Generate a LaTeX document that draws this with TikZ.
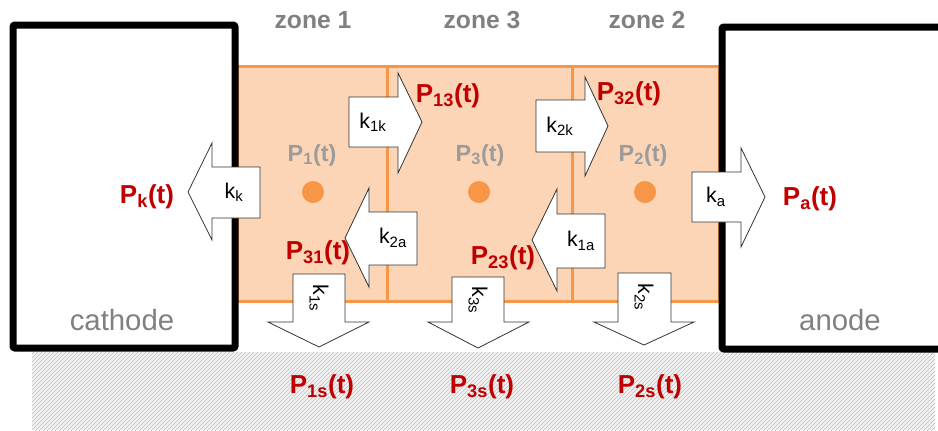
\documentclass[tikz,border=0pt]{standalone}
\usepackage{fontspec}
\setmainfont{Liberation Sans}
\usetikzlibrary{patterns}
\definecolor{zonefill}{HTML}{FBD5B5}
\definecolor{zoneline}{HTML}{F79646}
\definecolor{darkred}{HTML}{C00000}
\definecolor{titlegray}{HTML}{808080}
\definecolor{pgray}{HTML}{9C9C9C}
\begin{document}
\begin{tikzpicture}[x=0.75pt,y=-0.75pt,
  blockarrow/.style={fill=white,draw=black!80,line width=0.6pt,line join=miter},
  electrode/.style={draw=black,line width=5.25pt,rounded corners=1.5pt},
  zonetitle/.style={text=titlegray,font=\fontsize{18.5}{20}\selectfont\bfseries},
  elname/.style={text=titlegray,font=\fontsize{22}{24}\selectfont},
  pzone/.style={text=pgray,font=\fontsize{17.5}{19}\selectfont\bfseries},
  pred/.style={text=darkred,font=\fontsize{19.5}{21}\selectfont\bfseries},
  rate/.style={font=\fontsize{16}{18}\selectfont}]
\useasboundingbox (0,0) rectangle (938,430);
\clip (0,0) rectangle (938,430);
% substrate
\fill[black!5] (32,352) rectangle (935,430);
\fill[pattern=north east lines,pattern color=black!25] (32,352) rectangle (935,430);
% zones
\draw[fill=zonefill,draw=zoneline,line width=2.25pt] (237,66) rectangle (719,301);
\draw[zoneline,line width=2.25pt] (387,66) -- (387,301);
\draw[zoneline,line width=2.25pt] (572,66) -- (572,301);
\fill[zoneline] (313,192) circle (11);
\fill[zoneline] (479,192) circle (11);
\fill[zoneline] (645,192) circle (11);
% electrodes
\draw[electrode] (13,25) rectangle (235,348);
\draw[electrode] (722,27) rectangle (980,349);
% block arrows
\draw[blockarrow] (260,167) -- (212,167) -- (212,143) -- (188,192) -- (212,240) -- (212,218) -- (260,218) -- cycle;
\draw[blockarrow] (349,97) -- (398,97) -- (398,73) -- (422,122) -- (398,173) -- (398,147) -- (349,147) -- cycle;
\draw[blockarrow] (536,100) -- (585,100) -- (585,77) -- (608,126) -- (585,176) -- (585,152) -- (536,152) -- cycle;
\draw[blockarrow] (692,172) -- (741,172) -- (741,148) -- (765,197) -- (741,247) -- (741,222) -- (692,222) -- cycle;
\draw[blockarrow] (417,212) -- (369,212) -- (369,188) -- (345,238) -- (369,287) -- (369,265) -- (417,265) -- cycle;
\draw[blockarrow] (605,214) -- (557,214) -- (557,189) -- (532,240) -- (557,291) -- (557,268) -- (605,268) -- cycle;
\draw[blockarrow] (293,274) -- (345,274) -- (345,322) -- (369,322) -- (319,347) -- (268,322) -- (293,322) -- cycle;
\draw[blockarrow] (452,277) -- (504,277) -- (504,322) -- (529,322) -- (478,348) -- (428,322) -- (452,322) -- cycle;
\draw[blockarrow] (618,273) -- (671,273) -- (671,322) -- (694,322) -- (644,345) -- (594,322) -- (618,322) -- cycle;
% rate constants
\node[rate] (kk) at (234,192) {k\textsubscript{k}};
\node[rate] (k1k) at (373,122) {k\textsubscript{1k}};
\node[rate] (k2k) at (560,126) {k\textsubscript{2k}};
\node[rate] (ka) at (716,197) {k\textsubscript{a}};
\node[rate] (k2a) at (393,238) {k\textsubscript{2a}};
\node[rate] (k1a) at (581,241) {k\textsubscript{1a}};
\node[rate,rotate=-90] (k1s) at (319,298) {k\textsubscript{1s}};
\node[rate,rotate=-90] (k3s) at (478,300) {k\textsubscript{3s}};
\node[rate,rotate=-90] (k2s) at (644,297) {k\textsubscript{2s}};
% labels
\node[zonetitle] (z1) at (313,20) {zone 1};
\node[zonetitle] (z3) at (482,20) {zone 3};
\node[zonetitle] (z2) at (647,20) {zone 2};
\node[elname] (cath) at (122,320) {cathode};
\node[elname] (anod) at (840,320) {anode};
\node[pzone] (p1) at (312,155) {P\textsubscript{1}(t)};
\node[pzone] (p3) at (480,155) {P\textsubscript{3}(t)};
\node[pzone] (p2) at (643,155) {P\textsubscript{2}(t)};
\node[pred] (pk) at (147,197) {P\textsubscript{k}(t)};
\node[pred] (pa) at (810,199) {P\textsubscript{a}(t)};
\node[pred] (p13) at (448,96) {P\textsubscript{13}(t)};
\node[pred] (p32) at (629,94) {P\textsubscript{32}(t)};
\node[pred] (p31) at (318,253) {P\textsubscript{31}(t)};
\node[pred] (p23) at (503,258) {P\textsubscript{23}(t)};
\node[pred] (p1s) at (322,387) {P\textsubscript{1s}(t)};
\node[pred] (p3s) at (482,387) {P\textsubscript{3s}(t)};
\node[pred] (p2s) at (650,387) {P\textsubscript{2s}(t)};
\end{tikzpicture}
\end{document}
